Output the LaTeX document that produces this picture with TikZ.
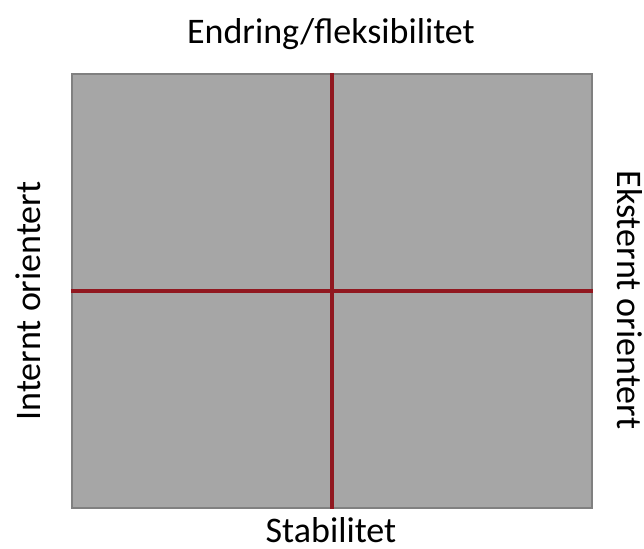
\documentclass[tikz,border=0pt]{standalone}
\usepackage{fontspec}
\setmainfont{Carlito}
\usepackage{tikz}
\usetikzlibrary{positioning}
\definecolor{boxgrey}{RGB}{166,166,166}
\definecolor{edgegrey}{RGB}{128,128,128}
\definecolor{axisred}{RGB}{145,24,32}

\begin{document}
\begin{tikzpicture}[x=0.5pt, y=-0.5pt,
                    quad/.style={draw=edgegrey, line width=1.2pt, fill=boxgrey, inner sep=0pt, minimum width=260pt, minimum height=217pt},
                    lbl/.style={font=\fontsize{18}{22}\selectfont, inner sep=0pt, anchor=base},
                    axis/.style={draw=axisred, line width=1.7pt}]
        \useasboundingbox (0,0) rectangle (644,548);
        \node[quad] (box) at (332,291) {};
        \node[lbl] (top) at (331,43) {Endring/fleksibilitet};
        \node[lbl] (bottom) at (331,542) {Stabilitet};
        \node[lbl, rotate=90] (left) at (40,301) {Internt orientert};
        \node[lbl, rotate=-90] (right) at (617,300) {Eksternt orientert};
        \draw[axis] (box.north) -- (box.south);
        \draw[axis] (box.west) -- (box.east);
    \end{tikzpicture}
\end{document}
